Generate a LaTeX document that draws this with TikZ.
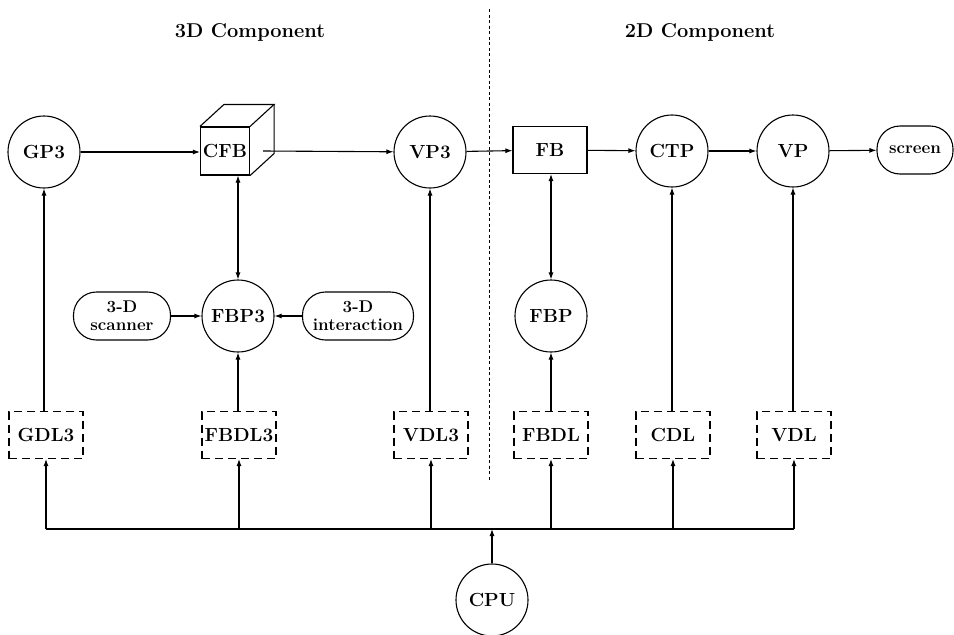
\documentclass[tikz,border=0pt]{standalone}
\usepackage{tikz}
\usetikzlibrary{arrows.meta}

\tikzset{
  >={Latex[length=7pt,width=5pt]},
  every node/.style={font=\fontsize{19}{21}\selectfont\bfseries},
  proc/.style={draw,circle,minimum size=72pt,inner sep=0pt},
  dlist/.style={draw,dash pattern=on 8pt off 5pt,minimum width=74pt,minimum height=47pt,inner sep=0pt},
  dev/.style={draw,rounded corners=23pt,minimum height=48pt,inner sep=0pt,align=center,
    font=\fontsize{17}{18}\selectfont\bfseries},
  buf/.style={draw,minimum width=49pt,minimum height=48pt,inner sep=0pt},
}

\begin{document}
\begin{tikzpicture}[x=1pt,y=-1pt,line width=1.1pt]
\useasboundingbox (0,0) rectangle (954,635);

% headings and the split
\node[font=\fontsize{20}{22}\selectfont\bfseries] (h3) at (250,32) {3D Component};
\node[font=\fontsize{20}{22}\selectfont\bfseries] (h2) at (700,32) {2D Component};
\draw[line width=1pt,dash pattern=on 3pt off 2.5pt] (489,9) -- (489,481);

% top row
\node[proc] (GP3) at (44,152) {GP3};
\node[buf] (CFB) at (225,151) {CFB};
\draw (CFB.north west) -- ++(24,-22) -- ([shift={(24,-22)}]CFB.north east) -- (CFB.north east);
\draw ([shift={(24,-22)}]CFB.north east) -- ([shift={(24,-22)}]CFB.south east) -- (CFB.south east);
\node[proc] (VP3) at (430,152) {VP3};
\node[buf,minimum width=74pt,minimum height=47pt] (FB) at (550,150) {FB};
\node[proc] (CTP) at (672,151) {CTP};
\node[proc] (VP) at (793,151) {VP};
\node[dev,minimum width=76pt] (scr) at (915,150) {screen};

% processors
\node[proc] (FBP3) at (238,316) {FBP3};
\node[dev,minimum width=97pt] (scan) at (122,316) {3-D\\scanner};
\node[dev,minimum width=111pt] (inter) at (358,316) {3-D\\interaction};
\node[proc] (FBP) at (551,316) {FBP};

% display lists
\node[dlist] (GDL3) at (46,435) {GDL3};
\node[dlist] (FBDL3) at (239,435) {FBDL3};
\node[dlist] (VDL3) at (431,435) {VDL3};
\node[dlist] (FBDL) at (551,435) {FBDL};
\node[dlist] (CDL) at (673,435) {CDL};
\node[dlist] (VDL) at (794,435) {VDL};

\node[proc] (CPU) at (492,600) {CPU};
\coordinate (bus) at (492,529);

% data flow
\draw[->] (GP3) -- (GP3 -| CFB.west);
\draw[->] ([xshift=13pt]CFB.east) -- (VP3);
\draw[->] (VP3) -- (FB);
\draw[->] (FB) -- (CTP);
\draw[->] (CTP) -- (VP);
\draw[->] (VP) -- (scr);
\draw[<->] (FBP3.north) -- (FBP3.north |- CFB.south);
\draw[<->] (FBP.north) -- (FBP.north |- FB.south);
\draw[->] (scan) -- (FBP3);
\draw[->] (inter) -- (FBP3);

% lists to processors
\draw[->] (GDL3.north -| GP3) -- (GP3.south);
\draw[->] (FBDL3.north -| FBP3) -- (FBP3.south);
\draw[->] (VDL3.north -| VP3) -- (VP3.south);
\draw[->] (FBDL.north -| FBP) -- (FBP.south);
\draw[->] (CDL.north -| CTP) -- (CTP.south);
\draw[->] (VDL.north -| VP) -- (VP.south);

% bus
\draw (GDL3 |- bus) -- (VDL |- bus);
\foreach \n in {GDL3,FBDL3,VDL3,FBDL,CDL,VDL}
  \draw[->] (\n |- bus) -- (\n.south);
\draw[->] (CPU.north) -- (bus);
\end{tikzpicture}
\end{document}
